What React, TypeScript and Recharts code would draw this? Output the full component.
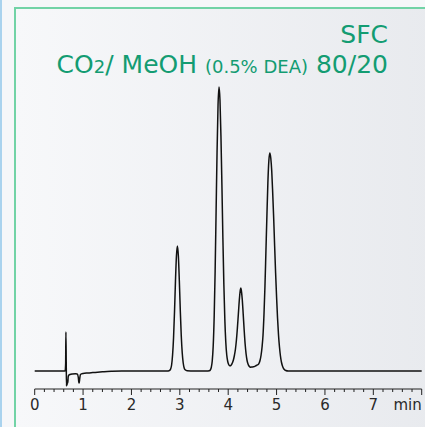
import React from 'react';
import { LineChart, Line, XAxis, YAxis } from 'recharts';

// chromatogram trace, [minutes, detector signal]
const leadIn: [number, number][] = [
  [0, 0], [0.2, 0], [0.4, 0], [0.6, 0], [0.63, 0.3],
];
const injection: [number, number][] = [
  [0.64, 8], [0.645, 39], [0.652, 8], [0.657, -15], [0.664, -10], [0.67, -14], [0.677, -9],
  [0.684, -12], [0.692, -6], [0.7, -4.5], [0.73, -3.5], [0.78, -3], [0.84, -2.8], [0.88, -3],
  [0.9, -6], [0.912, -11], [0.92, -12], [0.93, -8], [0.945, -3.5], [1.0, -2.5], [1.1, -2],
  [1.2, -1.6], [1.3, -1.2], [1.4, -0.8], [1.5, -0.4], [1.6, -0.2], [1.8, 0], [2.2, 0], [2.6, 0],
  [2.76, 0],
];
const peak1: [number, number][] = [
  [2.79, 0.6], [2.81, 2], [2.83, 6], [2.85, 16], [2.87, 33], [2.89, 59], [2.91, 90], [2.93, 115],
  [2.95, 125], [2.97, 115], [2.99, 90], [3.01, 60], [3.03, 35], [3.05, 18], [3.07, 8], [3.09, 3],
  [3.11, 1.2], [3.15, 0.3], [3.3, 0], [3.45, 0], [3.55, 0],
];
const peak2: [number, number][] = [
  [3.61, 0.3], [3.63, 1], [3.65, 3.5], [3.67, 10], [3.69, 25], [3.71, 54], [3.73, 100], [3.75, 160],
  [3.77, 220], [3.79, 266], [3.81, 284], [3.83, 271], [3.85, 235], [3.87, 186], [3.89, 133],
  [3.91, 87], [3.93, 52], [3.95, 29], [3.97, 16], [3.99, 9.5], [4.01, 6.5], [4.03, 5.2],
];
const peak3: [number, number][] = [
  [4.05, 5.3], [4.07, 6.5], [4.09, 8.5], [4.11, 11.5], [4.13, 16], [4.15, 22], [4.17, 31],
  [4.19, 43], [4.21, 57], [4.23, 71], [4.25, 81], [4.26, 83], [4.27, 81], [4.29, 72], [4.31, 57],
  [4.33, 41], [4.35, 27], [4.37, 17], [4.39, 10.5], [4.41, 7], [4.43, 5], [4.45, 4], [4.47, 3.8],
];
const peak4: [number, number][] = [
  [4.49, 4], [4.52, 4.2], [4.55, 4.6], [4.58, 5.5], [4.6, 6], [4.62, 6.5], [4.64, 8], [4.66, 11],
  [4.68, 16], [4.7, 24], [4.72, 36], [4.74, 57], [4.76, 85], [4.78, 120], [4.8, 155], [4.82, 188],
  [4.84, 210], [4.86, 218], [4.88, 213], [4.9, 200], [4.92, 178], [4.94, 153], [4.96, 125],
  [4.98, 98], [5.0, 74], [5.02, 53], [5.04, 36], [5.06, 24], [5.08, 15], [5.1, 9], [5.12, 5.2],
  [5.14, 2.8], [5.16, 1.5], [5.19, 0.5], [5.24, 0],
];
const tailOut: [number, number][] = [
  [5.5, 0], [6.0, 0], [6.5, 0], [7.0, 0], [7.5, 0], [8.0, 0],
];

const majorTicks = [0, 1, 2, 3, 4, 5, 6, 7, 8];
const allTicks = [
  0, 0.2, 0.4, 0.6, 0.8, 1, 1.2, 1.4, 1.6, 1.8, 2, 2.2, 2.4, 2.6, 2.8, 3, 3.2, 3.4, 3.6, 3.8,
  4, 4.2, 4.4, 4.6, 4.8, 5, 5.2, 5.4, 5.6, 5.8, 6, 6.2, 6.4, 6.6, 6.8, 7, 7.2, 7.4, 7.6, 7.8, 8,
];

const data = [...leadIn, ...injection, ...peak1, ...peak2, ...peak3, ...peak4, ...tailOut].map(
  ([t, v]) => ({ t, v })
);

const green = '#139c72';

const AxisTick = (props: any) => {
  const { x, y, payload } = props;
  const v = payload.value;
  const major = majorTicks.includes(v);
  return (
    <g>
      <line x1={x} y1={y} x2={x} y2={y + (major ? 6 : 3)} stroke="#222" strokeWidth={1} />
      {major && (
        <text
          x={x}
          y={y + 21}
          textAnchor={v === 8 ? 'end' : 'middle'}
          fill="#2a2a2a"
          fontSize={15}
          fontFamily="DejaVu Sans"
        >
          {v === 8 ? 'min' : v}
        </text>
      )}
    </g>
  );
};

export default function App() {
  return (
    <div
      style={{
        position: 'absolute',
        left: 0,
        top: 0,
        width: 425,
        height: 427,
        overflow: 'hidden',
        background: '#f6f7f9',
        fontFamily: 'DejaVu Sans',
      }}
    >
      <div style={{ position: 'absolute', left: 0, top: 0, width: 2, height: 427, background: '#aad3ee' }} />
      <div
        style={{
          position: 'absolute',
          left: 14,
          top: 7,
          width: 420,
          height: 430,
          borderLeft: '2px solid #72d3a6',
          borderTop: '2px solid #72d3a6',
          background: 'linear-gradient(to right, #f7f8fa, #e8eaee)',
        }}
      />
      <div
        style={{
          position: 'absolute',
          right: 425 - 388,
          top: 20,
          color: green,
          fontSize: 25,
          lineHeight: '30px',
          textAlign: 'right',
          whiteSpace: 'nowrap',
        }}
      >
        <div>SFC</div>
        <div>
          CO<span style={{ fontSize: 18 }}>2</span>/ MeOH <span style={{ fontSize: 18 }}>(0.5% DEA)</span> 80/20
        </div>
      </div>
      <LineChart
        width={425}
        height={427}
        data={data}
        margin={{ top: 71, right: 3.3, left: 34.7, bottom: 8 }}
        style={{ position: 'absolute', left: 0, top: 0 }}
      >
        <XAxis
          dataKey="t"
          type="number"
          domain={[0, 8]}
          ticks={allTicks}
          interval={0}
          height={30}
          tickSize={0}
          tickMargin={0}
          tickLine={false}
          axisLine={{ stroke: '#222', strokeWidth: 1 }}
          tick={<AxisTick />}
        />
        <YAxis hide type="number" domain={[-18, 300]} allowDataOverflow />
        <Line
          type="monotone"
          dataKey="v"
          stroke="#111"
          strokeWidth={1.5}
          dot={false}
          isAnimationActive={false}
        />
      </LineChart>
    </div>
  );
}
